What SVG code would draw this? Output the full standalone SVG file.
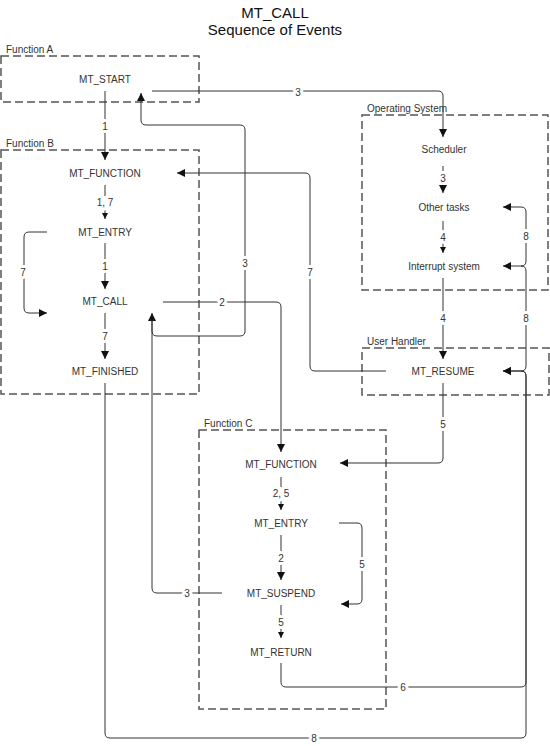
<svg xmlns="http://www.w3.org/2000/svg" width="550" height="746" viewBox="0 0 550 746">
<defs>
<style>
text{font-family:"Liberation Sans",Arial,sans-serif;fill:#333;}
.title{font-size:15px;text-anchor:middle;fill:#111;}
.node{font-size:10px;text-anchor:middle;}
.grp{font-size:10px;}
.lbl{font-size:10px;text-anchor:middle;paint-order:stroke;stroke:#fff;stroke-width:6px;stroke-linejoin:round;}
.bg{fill:#fff;stroke:none;}
.box{fill:none;stroke:#555;stroke-width:1.5;stroke-dasharray:8 4;}
.c{fill:none;stroke:#333;stroke-width:1;}
.big{marker-end:url(#ab);}
.sm{marker-end:url(#as);}
</style>
<marker id="ab" viewBox="0 0 10 10" refX="10" refY="5" markerWidth="9" markerHeight="8" markerUnits="userSpaceOnUse" orient="auto">
<path d="M0,0 L10,5 L0,10 Z" fill="#111"/>
</marker>
<marker id="as" viewBox="0 0 10 10" refX="10" refY="5" markerWidth="7" markerHeight="6" markerUnits="userSpaceOnUse" orient="auto">
<path d="M0,0 L10,5 L0,10 Z" fill="#111"/>
</marker>
</defs>
<rect width="550" height="746" fill="#fff"/>
<text class="title" x="275" y="18">MT_CALL</text>
<text class="title" x="275" y="35">Sequence of Events</text>

<g id="functionA">
<rect class="box" x="1" y="56" width="198" height="46"/>
<text class="grp" x="6" y="53">Function A</text>
</g>
<g id="functionB">
<rect class="box" x="1" y="150" width="198" height="244"/>
<text class="grp" x="6" y="147">Function B</text>
</g>
<g id="operatingSystem">
<rect class="box" x="362" y="115" width="186" height="175"/>
<text class="grp" x="367" y="112">Operating System</text>
</g>
<g id="userHandler">
<rect class="box" x="362" y="348" width="187" height="47"/>
<text class="grp" x="367" y="345">User Handler</text>
</g>
<g id="functionC">
<rect class="box" x="199" y="430" width="187" height="279"/>
<text class="grp" x="204" y="427">Function C</text>
</g>

<g id="connectors">
<path class="c big" d="M105,91 V160"/>
<path class="c sm" d="M105,185 V219"/>
<path class="c big" d="M105,243 V289"/>
<path class="c big" d="M105,313 V359"/>
<path class="c big" d="M47,232 H29 Q24,232 24,237 V308 Q24,313 29,313 H47"/>
<path class="c big" d="M163,302 H276 Q281,302 281,307 V452"/>
<path class="c big" d="M152,91 H438 Q443,91 443,96 V137"/>
<path class="c big" d="M443,166 V193"/>
<path class="c sm" d="M443,221 V253"/>
<path class="c big" d="M443,278 V359"/>
<path class="c big" d="M386,371 H315 Q310,371 310,366 V178 Q310,173 305,173 H177"/>
<path class="c big" d="M443,383 V458 Q443,463 438,463 H340"/>
<path class="c sm" d="M281,477 V510"/>
<path class="c big" d="M281,535 V580"/>
<path class="c sm" d="M281,605 V638"/>
<path class="c big" d="M339,523 H357 Q362,523 362,528 V599 Q362,604 357,604 H341"/>
<path class="c big" d="M222,593 H157 Q152,593 152,588 V313"/>
<path class="c big" d="M152,320 V331 Q152,336 157,336 H240 Q245,336 245,331 V130 Q245,125 240,125 H146 Q141,125 141,120 V93"/>
<path class="c big" d="M281,663 V682 Q281,687 286,687 H521 Q526,687 526,682 V376 Q526,371 521,371 H503"/>
<path class="c big" d="M105,383 V733 Q105,738 110,738 H521 Q526,738 526,733 V376 Q526,371 521,371 H503"/>
<path class="c big" d="M521,371 Q526,371 526,366 V271 Q526,266 521,266 H503"/>
<path class="c big" d="M521,266 Q526,266 526,261 V212 Q526,207 521,207 H503"/>

<rect class="bg" x="95" y="196" width="20" height="12"/>
<rect class="bg" x="271" y="487" width="20" height="12"/>
<text class="lbl" x="105" y="130">1</text>
<text class="lbl" x="105" y="206">1, 7</text>
<text class="lbl" x="105" y="270">1</text>
<text class="lbl" x="105" y="340">7</text>
<text class="lbl" x="23" y="276">7</text>
<text class="lbl" x="222" y="306">2</text>
<text class="lbl" x="298" y="96">3</text>
<text class="lbl" x="443" y="182">3</text>
<text class="lbl" x="443" y="241">4</text>
<text class="lbl" x="443" y="322">4</text>
<text class="lbl" x="310" y="276">7</text>
<text class="lbl" x="443" y="428">5</text>
<text class="lbl" x="281" y="497">2, 5</text>
<text class="lbl" x="281" y="562">2</text>
<text class="lbl" x="281" y="626">5</text>
<text class="lbl" x="362" y="568">5</text>
<text class="lbl" x="187" y="597">3</text>
<text class="lbl" x="245" y="267">3</text>
<text class="lbl" x="403" y="691">6</text>
<text class="lbl" x="314" y="742">8</text>
<text class="lbl" x="526" y="322">8</text>
<text class="lbl" x="526" y="240">8</text>
</g>

<g id="mt_start"><text class="node" x="105" y="82.5">MT_START</text></g>
<g id="b_mt_function"><text class="node" x="105" y="176.5">MT_FUNCTION</text></g>
<g id="b_mt_entry"><text class="node" x="105" y="235.5">MT_ENTRY</text></g>
<g id="b_mt_call"><text class="node" x="105" y="304.5">MT_CALL</text></g>
<g id="b_mt_finished"><text class="node" x="105" y="374.5">MT_FINISHED</text></g>
<g id="scheduler"><text class="node" x="444" y="152.5">Scheduler</text></g>
<g id="other_tasks"><text class="node" x="444" y="210.5">Other tasks</text></g>
<g id="interrupt_system"><text class="node" x="444" y="269.5">Interrupt system</text></g>
<g id="mt_resume"><text class="node" x="443" y="374.5">MT_RESUME</text></g>
<g id="c_mt_function"><text class="node" x="281" y="467.5">MT_FUNCTION</text></g>
<g id="c_mt_entry"><text class="node" x="281" y="526.5">MT_ENTRY</text></g>
<g id="c_mt_suspend"><text class="node" x="281" y="596.5">MT_SUSPEND</text></g>
<g id="c_mt_return"><text class="node" x="281" y="655.5">MT_RETURN</text></g>
</svg>
